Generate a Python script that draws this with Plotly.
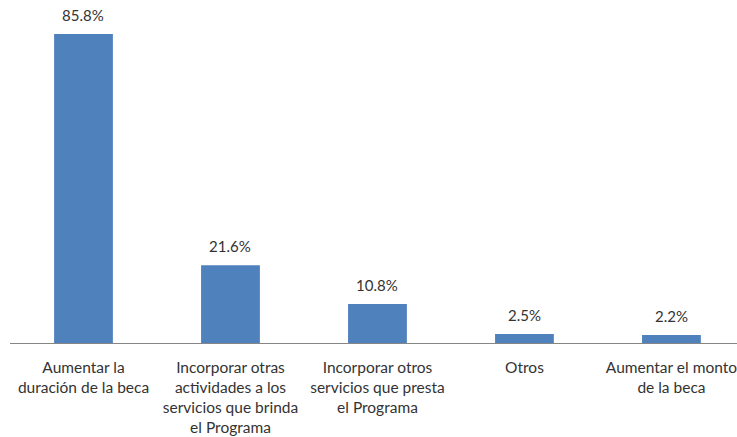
import plotly.graph_objects as go

categories = [
    "Aumentar la<br>duración de la beca",
    "Incorporar otras<br>actividades a los<br>servicios que brinda<br>el Programa",
    "Incorporar otros<br>servicios que presta<br>el Programa",
    "Otros",
    "Aumentar el monto<br>de la beca",
]
values = [85.8, 21.6, 10.8, 2.5, 2.2]
labels = [f"{v:.1f}%" for v in values]

FONT = "Lato, Liberation Sans, Arial"
TXT = "#333333"

fig = go.Figure(go.Bar(
    x=list(range(len(categories))),
    y=values,
    cliponaxis=False,
    marker=dict(color="#4F81BD", line=dict(width=0)),
    hoverinfo="skip",
))

for i, (v, t) in enumerate(zip(values, labels)):
    fig.add_annotation(
        x=i, y=v, text=t, showarrow=False,
        yanchor="bottom", yshift=8,
        font=dict(family=FONT, size=15, color=TXT),
    )

fig.update_layout(
    width=737, height=437,
    margin=dict(l=10, r=0, t=19, b=94),
    paper_bgcolor="white", plot_bgcolor="white",
    bargap=0.6,
    showlegend=False,
    font=dict(family=FONT, size=15, color=TXT),
    xaxis=dict(
        tickmode="array",
        tickvals=list(range(len(categories))),
        ticktext=categories,
        range=[-0.5, 4.446],
        showgrid=False, zeroline=False,
        showline=True, linecolor="#868686", linewidth=1,
        ticks="", ticklabelstandoff=10,
        ticklabeloverflow="allow",
        tickangle=0,
        tickfont=dict(family=FONT, size=15.5, color=TXT),
    ),
    yaxis=dict(
        range=[0, 90],
        visible=False,
        showgrid=False, zeroline=False,
    ),
)

fig.write_html(
    "out.html",
    config={"displayModeBar": False},
    post_script="document.body.style.margin='0';document.body.style.overflow='hidden';",
)
